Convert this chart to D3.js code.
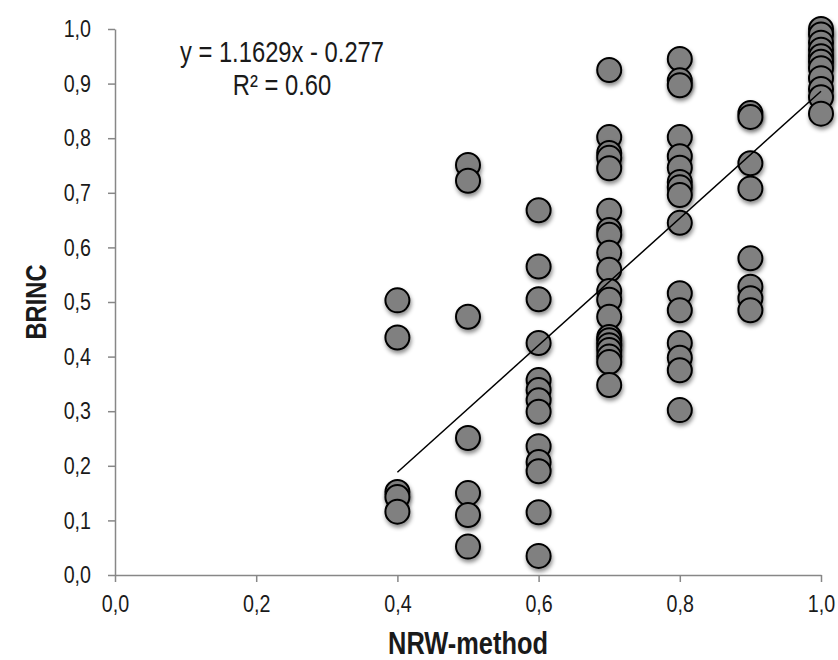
<!DOCTYPE html>
<html>
<head>
<meta charset="utf-8">
<script src="https://cdn.jsdelivr.net/npm/d3@7"></script>
<style>
  body { margin: 0; background: #fff; }
  text { font-family: "Liberation Sans", Arial, sans-serif; }
</style>
</head>
<body>
<div id="chartContainer"></div>
<script>
// NRW-method levels and the BRINC values read at each level
const nrwLevels = [0.4, 0.5, 0.6, 0.7, 0.8, 0.9, 1.0];
const brinc04 = [0.503, 0.435, 0.152, 0.143, 0.116];
const brinc05 = [0.751, 0.722, 0.473, 0.251, 0.150, 0.110, 0.052];
const brinc06 = [0.668, 0.565, 0.505, 0.425, 0.357, 0.339, 0.320, 0.299, 0.236, 0.207, 0.190, 0.115, 0.035];
const brinc07 = [0.925, 0.802, 0.773, 0.764, 0.745, 0.667, 0.632, 0.623, 0.590, 0.559, 0.520, 0.504, 0.473, 0.436, 0.430, 0.421, 0.412, 0.400, 0.390, 0.348];
const brinc08 = [0.945, 0.906, 0.897, 0.802, 0.767, 0.746, 0.720, 0.710, 0.696, 0.645, 0.516, 0.485, 0.425, 0.398, 0.375, 0.302];
const brinc09 = [0.846, 0.839, 0.754, 0.708, 0.580, 0.528, 0.507, 0.485];
const brinc10 = [1.000, 0.990, 0.975, 0.962, 0.950, 0.940, 0.928, 0.910, 0.890, 0.875, 0.845];

// linear trend line
const trendSlope = 1.1629;
const trendIntercept = -0.277;
const trendRange = [0.4, 1.0];
const trendLabel = "y = 1.1629x - 0.277";
const r2Label = "R\u00b2 = 0.60";

const axisTicks = [0, 0.1, 0.2, 0.3, 0.4, 0.5, 0.6, 0.7, 0.8, 0.9, 1.0];
const xTicks = [0, 0.2, 0.4, 0.6, 0.8, 1.0];

const brincGroups = [brinc04, brinc05, brinc06, brinc07, brinc08, brinc09, brinc10];
const points = [];
brincGroups.forEach((vals, i) => {
  vals.forEach(v => points.push({ x: nrwLevels[i], y: v }));
});

// no narrow font installed, so squeeze Liberation Sans like Arial Narrow
const narrow = 0.82;

const svgWidth = 838, svgHeight = 660;
const margin = { top: 29, right: 17, bottom: 85, left: 115 };
const width = svgWidth - margin.left - margin.right;
const height = svgHeight - margin.top - margin.bottom;

const svgRoot = d3.select("#chartContainer")
  .append("svg")
  .attr("width", svgWidth)
  .attr("height", svgHeight);

// soft drop shadow under the markers
const filter = svgRoot.append("defs").append("filter")
  .attr("id", "shadow")
  .attr("x", "-50%").attr("y", "-50%")
  .attr("width", "200%").attr("height", "200%");
filter.append("feDropShadow")
  .attr("dx", 1).attr("dy", 3)
  .attr("stdDeviation", 2)
  .attr("flood-color", "#000")
  .attr("flood-opacity", 0.45);

const svg = svgRoot.append("g")
  .attr("transform", `translate(${margin.left}, ${margin.top})`);

const xScale = d3.scaleLinear().domain([0, 1]).range([0, width]);
const yScale = d3.scaleLinear().domain([0, 1]).range([height, 0]);
const fmt = d => d3.format(".1f")(d).replace(".", ",");

// y axis
const yAxis = svg.append("g")
  .call(d3.axisLeft(yScale).tickValues(axisTicks).tickFormat(fmt).tickSizeInner(7).tickSizeOuter(0).tickPadding(17));
// x axis
const xAxis = svg.append("g")
  .attr("transform", `translate(0, ${height})`)
  .call(d3.axisBottom(xScale).tickValues(xTicks).tickFormat(fmt).tickSizeInner(7).tickSizeOuter(0).tickPadding(13));

[yAxis, xAxis].forEach(ax => {
  ax.select(".domain").attr("stroke", "#878787").attr("stroke-width", 1.5);
  ax.selectAll(".tick line").attr("stroke", "#878787").attr("stroke-width", 1.5);
  ax.selectAll(".tick text")
    .attr("fill", "#1a1a1a")
    .style("font-size", "24px")
    .style("font-family", "'Liberation Sans', Arial, sans-serif")
    .each(function () {
      const t = d3.select(this);
      const x = +t.attr("x") || 0;
      t.attr("x", x / narrow).attr("transform", `scale(${narrow},1)`);
    });
});

// points
svg.selectAll("circle")
  .data(points)
  .enter()
  .append("circle")
  .attr("cx", d => xScale(d.x))
  .attr("cy", d => yScale(d.y))
  .attr("r", 12)
  .attr("fill", "#808080")
  .attr("stroke", "#000")
  .attr("stroke-width", 2)
  .attr("filter", "url(#shadow)");

// trend line
svg.append("line")
  .attr("x1", xScale(trendRange[0]))
  .attr("y1", yScale(trendSlope * trendRange[0] + trendIntercept))
  .attr("x2", xScale(trendRange[1]))
  .attr("y2", yScale(trendSlope * trendRange[1] + trendIntercept))
  .attr("stroke", "#000")
  .attr("stroke-width", 1.5);

// equation annotation
svgRoot.append("text")
  .attr("transform", `translate(282, 62) scale(${narrow},1)`)
  .attr("text-anchor", "middle")
  .style("font-size", "29px")
  .attr("fill", "#1a1a1a")
  .text(trendLabel);
svgRoot.append("text")
  .attr("transform", `translate(282, 95) scale(${narrow},1)`)
  .attr("text-anchor", "middle")
  .style("font-size", "29px")
  .attr("fill", "#1a1a1a")
  .text(r2Label);

// axis titles
svgRoot.append("text")
  .attr("transform", `translate(468, 654) scale(${narrow},1)`)
  .attr("text-anchor", "middle")
  .style("font-size", "31px")
  .style("font-weight", "bold")
  .attr("fill", "#1a1a1a")
  .text("NRW-method");

svgRoot.append("text")
  .attr("transform", `translate(46, 302) rotate(-90) scale(${narrow},1)`)
  .attr("text-anchor", "middle")
  .style("font-size", "29px")
  .style("font-weight", "bold")
  .attr("fill", "#1a1a1a")
  .text("BRINC");
</script>
</body>
</html>
